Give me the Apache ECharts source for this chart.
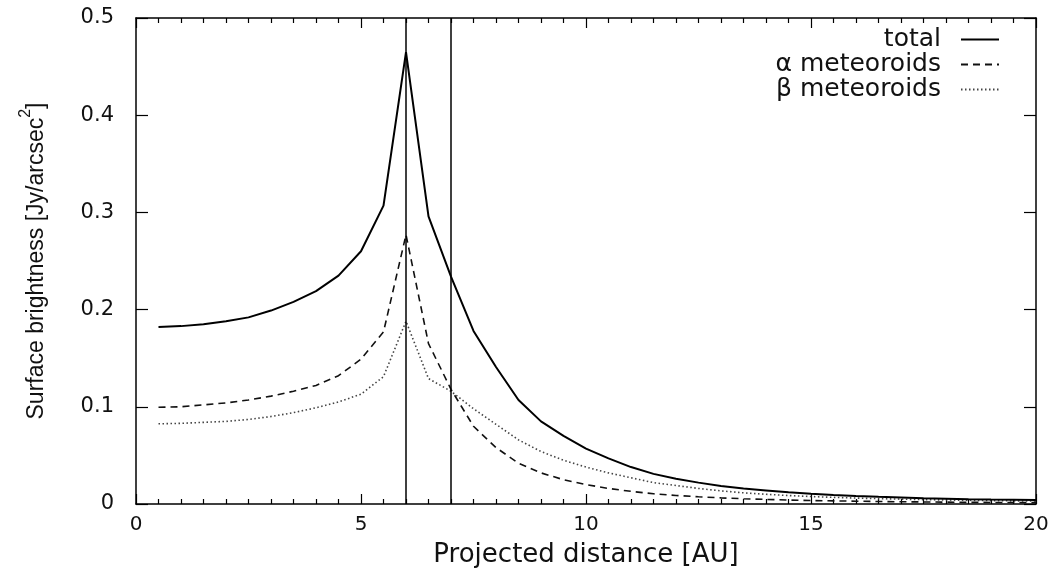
<!DOCTYPE html>
<html>
<head>
<meta charset="utf-8">
<script src="https://cdn.jsdelivr.net/npm/echarts@6/dist/echarts.min.js"></script>
<style>
  html, body { margin: 0; padding: 0; background: #fff; }
  #chart { width: 1052px; height: 573px; }
</style>
</head>
<body>
<div id="chart"></div>
<script>
// Projected distance [AU], sampled every 0.5 AU
const distance = [0.5, 1, 1.5, 2, 2.5, 3, 3.5, 4, 4.5, 5, 5.5, 6, 6.5, 7, 7.5, 8, 8.5, 9, 9.5, 10,
  10.5, 11, 11.5, 12, 12.5, 13, 13.5, 14, 14.5, 15, 15.5, 16, 16.5, 17, 17.5, 18, 18.5, 19, 19.5, 20];

// Surface brightness [Jy/arcsec^2]
const total = [0.182, 0.183, 0.185, 0.188, 0.192, 0.199, 0.208, 0.219, 0.235, 0.260, 0.307, 0.465, 0.296, 0.234, 0.178, 0.141, 0.107, 0.085, 0.070, 0.057,
  0.047, 0.038, 0.031, 0.026, 0.022, 0.0185, 0.016, 0.014, 0.012, 0.0105, 0.0093, 0.0083, 0.0074, 0.0067, 0.006, 0.0055, 0.005, 0.0046, 0.0043, 0.004];
const alpha = [0.0995, 0.100, 0.102, 0.104, 0.107, 0.111, 0.116, 0.122, 0.132, 0.149, 0.177, 0.277, 0.165, 0.118, 0.080, 0.058, 0.042, 0.032, 0.025, 0.020,
  0.016, 0.013, 0.0105, 0.0088, 0.0074, 0.0063, 0.0054, 0.0047, 0.0041, 0.0036, 0.0032, 0.0029, 0.0026, 0.0023, 0.0021, 0.0019, 0.0017, 0.0016, 0.0015, 0.0014];
const beta = [0.0825, 0.083, 0.084, 0.085, 0.087, 0.090, 0.094, 0.099, 0.105, 0.113, 0.131, 0.188, 0.129, 0.116, 0.098, 0.082, 0.066, 0.054, 0.045, 0.038,
  0.032, 0.027, 0.022, 0.019, 0.016, 0.0135, 0.0115, 0.010, 0.0087, 0.0077, 0.0068, 0.0061, 0.0055, 0.005, 0.0045, 0.0041, 0.0038, 0.0035, 0.0032, 0.003];

// Vertical reference lines [AU]
const markers = [6, 7];

const seriesNames = ['total', 'α meteoroids', 'β meteoroids'];

const pairs = ys => distance.map((x, i) => [x, ys[i]]);

const tickFont = { fontFamily: 'DejaVu Sans', fontSize: 20, color: '#111' };

// Box frame: axes stay on the plot edges instead of jumping to zero
const frameLine = { show: true, onZero: false, lineStyle: { color: '#000', width: 1.5 } };
const tickStyle = { color: '#000', width: 1.2 };

const chart = echarts.init(document.getElementById('chart'), null, { renderer: 'canvas' });

chart.setOption({
  animation: false,
  backgroundColor: '#fff',
  grid: { left: 136, right: 16, top: 18, bottom: 68 },
  legend: {
    orient: 'vertical',
    right: 47,
    top: 22,
    align: 'right',
    itemWidth: 38,
    itemHeight: 12,
    itemGap: 0,
    itemStyle: { opacity: 0 },
    data: seriesNames,
    textStyle: { fontFamily: 'DejaVu Sans', fontSize: 25, color: '#111', lineHeight: 22, padding: [0, 15, 0, 0] }
  },
  xAxis: [
    {
      type: 'value', min: 0, max: 20, interval: 5,
      name: 'Projected distance [AU]',
      nameLocation: 'middle', nameGap: 38,
      nameTextStyle: { fontFamily: 'DejaVu Sans', fontSize: 26, color: '#111' },
      axisLine: frameLine,
      axisTick: { show: true, inside: true, length: 10, lineStyle: tickStyle },
      minorTick: { show: true, splitNumber: 10, length: 5, lineStyle: tickStyle },
      axisLabel: Object.assign({ margin: 11 }, tickFont),
      splitLine: { show: false }
    },
    {
      type: 'value', min: 0, max: 20, interval: 5, position: 'top',
      axisLine: frameLine,
      axisTick: { show: true, inside: true, length: 10, lineStyle: tickStyle },
      minorTick: { show: true, splitNumber: 10, length: 5, lineStyle: tickStyle },
      axisLabel: { show: false },
      splitLine: { show: false }
    }
  ],
  yAxis: [
    {
      type: 'value', min: 0, max: 0.5, interval: 0.1,
      name: '{a|Surface brightness [Jy/arcsec}{s|2}{a|]}',
      nameLocation: 'middle', nameGap: 88, nameRotate: 90,
      nameTextStyle: {
        rich: {
          a: { fontFamily: 'Liberation Sans', fontSize: 23, color: '#111', lineHeight: 30, verticalAlign: 'bottom' },
          s: { fontFamily: 'Liberation Sans', fontSize: 16, color: '#111', lineHeight: 30, verticalAlign: 'top' }
        }
      },
      axisLine: frameLine,
      axisTick: { show: true, inside: true, length: 12, lineStyle: tickStyle },
      axisLabel: Object.assign({}, tickFont, { margin: 22, fontSize: 21 }),
      splitLine: { show: false }
    },
    {
      type: 'value', min: 0, max: 0.5, interval: 0.1, position: 'right',
      axisLine: frameLine,
      axisTick: { show: true, inside: true, length: 12, lineStyle: tickStyle },
      axisLabel: { show: false },
      splitLine: { show: false }
    }
  ],
  series: [
    {
      name: seriesNames[0], type: 'line', data: pairs(total),
      symbol: 'none', color: '#000',
      lineStyle: { color: '#000', width: 2, type: 'solid' },
      markLine: {
        silent: true,
        symbol: ['none', 'none'],
        label: { show: false },
        lineStyle: { color: '#000', width: 1.5, type: 'solid' },
        data: markers.map(v => ({ xAxis: v }))
      },
      z: 3
    },
    {
      name: seriesNames[1], type: 'line', data: pairs(alpha),
      symbol: 'none', color: '#111',
      lineStyle: { color: '#111', width: 1.6, type: [7, 5] },
      z: 2
    },
    {
      name: seriesNames[2], type: 'line', data: pairs(beta),
      symbol: 'none', color: '#444',
      lineStyle: { color: '#444', width: 1.6, type: [1.5, 2.5] },
      z: 1
    }
  ]
});
</script>
</body>
</html>
